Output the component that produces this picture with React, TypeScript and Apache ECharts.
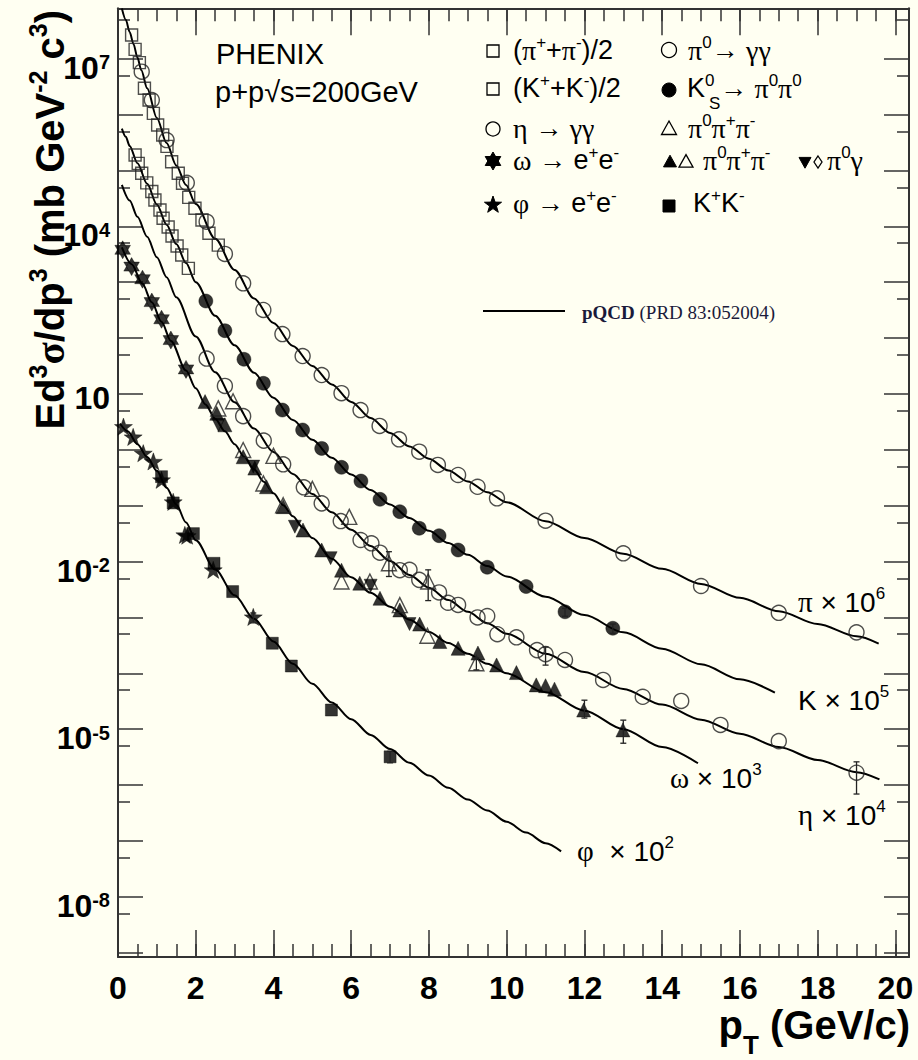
import React, { useEffect, useRef } from "react";
import * as echarts from "echarts";

// ---------------- data (pT in GeV/c, Ed3s/dp3 in mb GeV^-2 c^3, already scaled) ----------------
const xTickLabels = [0, 2, 4, 6, 8, 10, 12, 14, 16, 18, 20];
const yLabelExponents = [7, 4, 1, -2, -5, -8];

// pQCD curves
const piCurve: [number, number][] = [
  [0.1, 7.9e7], [0.2, 5.0e7], [0.3, 3.0e7], [0.4, 1.82e7], [0.5, 1.05e7], [0.6, 6.2e6], [0.75, 2.95e6],
  [1.0, 8.7e5], [1.25, 3.1e5], [1.5, 1.23e5], [1.75, 5.5e4], [2.0, 2.5e4], [2.5, 6.0e3], [3.0, 1.66e3],
  [3.5, 513], [4.0, 186], [4.5, 72], [5.0, 31.6], [5.5, 14.8], [6.0, 7.2], [6.5, 3.7], [7.0, 2.0],
  [7.5, 1.15], [8.0, 0.69], [8.5, 0.427], [9.0, 0.272], [9.5, 0.174], [10, 0.115], [11, 0.0525],
  [12, 0.0263], [13, 0.0138], [14, 7.4e-3], [15, 3.98e-3], [16, 2.24e-3], [17, 1.29e-3], [18, 7.6e-4],
  [19, 4.6e-4], [19.57, 3.4e-4],
];
const kCurve: [number, number][] = [
  [0.1, 5.6e5], [0.2, 4.0e5], [0.3, 2.75e5], [0.5, 1.35e5], [0.75, 5.75e4], [1.0, 2.45e4], [1.25, 1.07e4],
  [1.5, 4.8e3], [1.75, 2.2e3], [2.0, 1.0e3], [2.5, 251], [3.0, 74], [3.5, 24], [4.0, 8.5], [4.5, 3.4],
  [5.0, 1.51], [5.5, 0.72], [6.0, 0.36], [6.5, 0.19], [7.0, 0.105], [7.5, 0.06], [8.0, 0.0355],
  [8.5, 0.0214], [9.0, 0.0132], [9.5, 8.3e-3], [10, 5.4e-3], [11, 2.34e-3], [12, 1.1e-3], [13, 5.4e-4],
  [14, 2.75e-4], [15, 1.45e-4], [16, 7.8e-5], [16.9, 4.5e-5],
];
const etaCurve: [number, number][] = [
  [0.1, 5.5e4], [0.3, 2.9e4], [0.5, 1.48e4], [0.75, 6.5e3], [1.0, 2.8e3], [1.25, 1.23e3], [1.5, 537],
  [2.0, 107], [2.5, 24.5], [3.0, 7.1], [3.5, 2.4], [4.0, 0.91], [4.5, 0.37], [5.0, 0.162], [5.5, 0.076],
  [6.0, 0.037], [6.5, 0.019], [7.0, 0.0102], [7.5, 5.75e-3], [8.0, 3.4e-3], [8.5, 2.04e-3], [9.0, 1.26e-3],
  [9.5, 7.9e-4], [10, 5.1e-4], [11, 2.24e-4], [12, 1.05e-4], [13, 5.25e-5], [14, 2.75e-5], [15, 1.48e-5],
  [16, 8.3e-6], [17, 4.8e-6], [18, 2.8e-6], [19, 1.7e-6], [19.59, 1.26e-6],
];
const omegaCurve: [number, number][] = [
  [0.1, 4.2e3], [0.35, 2.1e3], [0.63, 933], [0.87, 437], [1.12, 195], [1.36, 89], [1.75, 26.3],
  [2.0, 12.6], [2.25, 6.5], [2.5, 3.6], [2.75, 2.14], [3.0, 1.26], [3.25, 0.74], [3.5, 0.447], [3.75, 0.269],
  [4.0, 0.166], [4.25, 0.102], [4.5, 0.0646], [4.75, 0.0407], [5.0, 0.0263], [5.5, 0.0112], [6.0, 5.25e-3],
  [6.5, 2.75e-3], [7.0, 1.55e-3], [7.5, 9.1e-4], [8.0, 5.5e-4], [8.5, 3.47e-4], [9.0, 2.24e-4],
  [9.5, 1.48e-4], [10, 1.0e-4], [11, 4.6e-5], [12, 2.14e-5], [13, 1.0e-5], [14, 4.8e-6], [14.92, 2.45e-6],
];
const phiCurve: [number, number][] = [
  [0.05, 2.95], [0.25, 2.14], [0.5, 1.26], [0.75, 0.74], [1.0, 0.42], [1.25, 0.21], [1.5, 0.105],
  [1.75, 0.05], [2.0, 0.024], [2.5, 7.2e-3], [3.0, 2.5e-3], [3.5, 9.5e-4], [4.0, 3.7e-4],
  [4.5, 1.48e-4], [5.0, 6.5e-5], [5.5, 3.0e-5], [6.0, 1.51e-5], [6.5, 7.9e-6], [7.0, 4.4e-6],
  [7.5, 2.5e-6], [8.0, 1.48e-6], [8.5, 8.9e-7], [9.0, 5.5e-7], [9.5, 3.5e-7], [10, 2.2e-7],
  [10.5, 1.41e-7], [11, 9.1e-8], [11.4, 6.5e-8],
];

// measured points
const piChargedPts: [number, number][] = [
  [0.35, 2.65e7], [0.44, 1.47e7], [0.55, 8.5e6], [0.68, 2.95e6], [0.8, 1.82e6], [0.91, 1.05e6],
  [1.02, 6.5e5], [1.15, 4.3e5], [1.26, 2.7e5], [1.38, 1.43e5], [1.55, 8.9e4], [1.66, 5.9e4],
  [1.82, 3.3e4], [1.98, 2.1e4], [2.16, 1.3e4], [2.34, 7.5e3], [2.58, 4.6e3],
];
const pi0Pts: [number, number][] = [
  [0.61, 5.85e6], [0.87, 1.82e6], [1.25, 3.5e5], [1.77, 6.0e4], [2.28, 1.21e4], [2.75, 3.2e3],
  [3.22, 955], [3.74, 318], [4.23, 118], [4.75, 47.7], [5.24, 21.8], [5.75, 10.3], [6.24, 5.15],
  [6.73, 2.67], [7.23, 1.54], [7.75, 0.925], [8.23, 0.535], [8.75, 0.354], [9.25, 0.218],
  [9.75, 0.1355], [11.0, 0.0538], [13.0, 0.01403], [15.0, 3.65e-3], [17.0, 1.21e-3], [19.0, 5.4e-4],
];
const kChargedPts: [number, number][] = [
  [0.44, 1.89e5], [0.52, 1.34e5], [0.61, 8.9e4], [0.74, 6.0e4], [0.87, 4.2e4], [0.95, 2.96e4],
  [1.08, 1.96e4], [1.16, 1.39e4], [1.29, 9.7e3], [1.39, 6.7e3], [1.52, 4.45e3], [1.64, 3.06e3],
  [1.81, 1.77e3],
];
const ks0Pts: [number, number][] = [
  [2.26, 460], [2.75, 135.5], [3.24, 41.7], [3.74, 15.5], [4.23, 5.15], [4.75, 2.26], [5.24, 1.06],
  [5.75, 0.486], [6.25, 0.276], [6.74, 0.13], [7.25, 0.078], [7.75, 0.0394], [8.26, 0.029],
  [8.75, 0.0161], [9.5, 7.9e-3], [10.5, 3.57e-3], [11.5, 1.26e-3], [12.73, 6.4e-4],
];
const etaGGPts: [number, number][] = [
  [2.28, 43], [2.75, 13.9], [3.22, 4.0], [3.75, 1.46], [4.25, 0.55], [4.78, 0.213], [5.24, 0.11],
  [5.73, 0.053], [6.24, 0.0243], [6.52, 0.0212], [6.74, 0.0144], [7.25, 7.0e-3], [7.5, 7.1e-3],
  [7.75, 4.7e-3], [8.26, 2.8e-3], [8.49, 1.83e-3], [8.75, 1.67e-3], [9.25, 1.0e-3], [9.5, 1.06e-3],
  [9.76, 5.0e-4], [10.25, 4.4e-4], [10.78, 2.6e-4], [11.0, 2.2e-4], [11.5, 1.73e-4], [12.48, 7.6e-5],
  [13.5, 3.8e-5], [14.49, 3.2e-5], [15.5, 1.19e-5], [17.0, 6.1e-6], [19.0, 1.66e-6],
];
const eta3piPts: [number, number][] = [
  [2.96, 7.4], [4.0, 0.78], [5.0, 0.2], [5.95, 0.063], [6.97, 9.3e-3], [7.98, 4.4e-3],
];
const omegaEEPts: [number, number][] = [
  [0.12, 3.8e3], [0.35, 1.9e3], [0.63, 1.13e3], [0.87, 440], [1.12, 217], [1.36, 92], [1.75, 27.5],
];
const omega3piFilledPts: [number, number][] = [
  [2.24, 7.3], [2.54, 4.5], [2.75, 2.8], [3.22, 0.75], [3.52, 0.47], [3.82, 0.218], [4.25, 0.096],
  [4.76, 0.0366], [5.24, 0.0161], [5.75, 7.0e-3], [6.22, 4.1e-3], [6.74, 2.2e-3], [7.25, 1.36e-3],
  [7.76, 7.6e-4], [8.28, 3.7e-4], [8.75, 2.8e-4], [9.26, 2.3e-4], [9.74, 1.41e-4], [10.25, 1.03e-4],
  [10.76, 6.2e-5], [11.0, 6.0e-5], [11.23, 5.2e-5], [11.98, 2.2e-5], [12.99, 9.7e-6],
];
const omega3piOpenPts: [number, number][] = [
  [2.58, 5.5], [3.22, 0.99], [3.74, 0.25], [4.25, 0.102], [5.75, 4.4e-3], [6.48, 4.4e-3],
  [7.25, 1.66e-3], [7.96, 4.7e-4], [9.22, 1.51e-4],
];
const omegaPi0GammaPts: [number, number][] = [
  [2.58, 2.8], [3.48, 0.5], [4.55, 0.042], [5.47, 0.0115], [6.5, 3.7e-3], [7.5, 7.6e-4],
];
const phiEEPts: [number, number][] = [
  [0.14, 2.6], [0.39, 1.7], [0.65, 0.87], [0.91, 0.62], [1.12, 0.29], [1.42, 0.117], [1.72, 0.03],
  [1.78, 0.029], [2.45, 7.1e-3], [3.48, 1.02e-3],
];
const phiKKPts: [number, number][] = [
  [1.12, 0.33], [1.42, 0.112], [1.94, 0.0316], [2.47, 9.3e-3], [2.95, 2.9e-3], [3.97, 3.45e-4],
  [4.46, 1.35e-4], [5.49, 2.2e-5], [7.0, 3.2e-6],
];
// error bars: [pT, low, high]
const errorBars: [number, number, number][] = [
  [19.0, 6.9e-7, 2.6e-6], [11.0, 1.4e-4, 2.95e-4], [12.0, 1.58e-5, 3.3e-5], [13.0, 5.6e-6, 1.45e-5],
  [6.97, 5.4e-3, 0.015], [7.98, 2.0e-3, 7.1e-3], [11.5, 1.05e-3, 1.45e-3], [12.73, 5.2e-4, 7.6e-4],
  [9.22, 1.15e-4, 1.9e-4], [7.0, 2.5e-6, 4.0e-6], [3.48, 8.0e-4, 1.2e-3],
];

// ---------------- styling ----------------
const FONT = "'Liberation Sans', Arial, Helvetica, sans-serif";
const SERIF = "'Liberation Serif', 'Times New Roman', serif";
const BG = "#fffff2";
const INK = "#000";
const FRAME = "#333";
const LOG_MIN = -9.078;
const LOG_MAX = 7.902;
const X_MAX = 20.35;
const HALF = Math.log10(2);

const HEXAGRAM = "path://M0,-10 L8.66,5 L-8.66,5 Z M0,10 L-8.66,-5 L8.66,-5 Z";
const STAR5 =
  "path://M0,-10 L2.35,-3.24 L9.51,-3.09 L3.8,1.24 L5.88,8.09 L0,4 L-5.88,8.09 L-3.8,1.24 L-9.51,-3.09 L-2.35,-3.24 Z";

function richSet(size: number, weight: string, color = INK, subDrop = 1.2) {
  const lh = size + 2;
  return {
    n: { fontSize: size, fontFamily: FONT, fontWeight: weight, fill: color, lineHeight: lh, verticalAlign: "middle" },
    g: { fontSize: size + 1, fontFamily: SERIF, fontWeight: weight, fill: color, lineHeight: lh, verticalAlign: "middle" },
    s: {
      fontSize: Math.round(size * 0.62), fontFamily: FONT, fontWeight: weight, fill: color, lineHeight: lh,
      verticalAlign: "middle", padding: [0, 0, Math.round(size * 0.6), 0],
    },
    t: {
      fontSize: Math.round(size * 0.64), fontFamily: FONT, fontWeight: weight, fill: color, lineHeight: lh,
      verticalAlign: "middle", padding: [Math.round(size * subDrop), 0, 0, 0],
    },
  };
}

function txt(x: number, y: number, text: string, size: number, opts: any = {}) {
  const weight = opts.weight || "normal";
  return {
    type: "text", x, y, rotation: opts.rotation || 0, silent: true, z: 20,
    style: {
      text, align: opts.align || "left", verticalAlign: "middle",
      fontSize: size, fontFamily: FONT, fontWeight: weight, fill: INK,
      rich: opts.rich || richSet(size, weight),
    },
  };
}

const stroke = { fill: "none", stroke: INK, lineWidth: 1.3 };
const solid = { fill: INK, stroke: INK, lineWidth: 1 };
function sqMk(cx: number, cy: number, s: number, filled: boolean) {
  return { type: "rect", silent: true, z: 20, shape: { x: cx - s / 2, y: cy - s / 2, width: s, height: s }, style: filled ? solid : stroke };
}
function circMk(cx: number, cy: number, r: number, filled: boolean) {
  return { type: "circle", silent: true, z: 20, shape: { cx, cy, r }, style: filled ? solid : stroke };
}
function triMk(cx: number, cy: number, s: number, filled: boolean, down = false) {
  const h = s * 0.9;
  const d = down ? -1 : 1;
  return {
    type: "polygon", silent: true, z: 20,
    shape: { points: [[cx, cy - (d * h * 2) / 3], [cx + s / 2, cy + (d * h) / 3], [cx - s / 2, cy + (d * h) / 3]] },
    style: filled ? solid : stroke,
  };
}
function diaMk(cx: number, cy: number) {
  return { type: "polygon", silent: true, z: 20, shape: { points: [[cx, cy - 6], [cx + 4, cy], [cx, cy + 6], [cx - 4, cy]] }, style: stroke };
}
function star5Mk(cx: number, cy: number, R: number) {
  const pts: number[][] = [];
  for (let i = 0; i < 10; i++) {
    const r = i % 2 ? R * 0.4 : R;
    const a = -Math.PI / 2 + (i * Math.PI) / 5;
    pts.push([cx + r * Math.cos(a), cy + r * Math.sin(a)]);
  }
  return { type: "polygon", silent: true, z: 20, shape: { points: pts }, style: solid };
}
function hexMk(cx: number, cy: number, R: number) {
  const k = R * 0.866;
  return [
    { type: "polygon", silent: true, z: 20, shape: { points: [[cx, cy - R], [cx + k, cy + R / 2], [cx - k, cy + R / 2]] }, style: solid },
    { type: "polygon", silent: true, z: 20, shape: { points: [[cx, cy + R], [cx - k, cy - R / 2], [cx + k, cy - R / 2]] }, style: solid },
  ];
}

function buildOption() {
  const lineSeries = (name: string, data: [number, number][]) => ({
    type: "line", name, data, xAxisIndex: 0, yAxisIndex: 0, smooth: 0.3, smoothMonotone: "x",
    symbol: "none", showSymbol: false, clip: true, z: 2, silent: true,
    lineStyle: { color: INK, width: 2 },
  });
  const scatter = (name: string, data: [number, number][], symbol: string, size: any, filled: boolean, extra: any = {}) => ({
    type: "scatter", name, data, xAxisIndex: 0, yAxisIndex: 0, symbol, symbolSize: size, z: 3, silent: true,
    itemStyle: filled
      ? { color: INK, borderColor: INK, borderWidth: 0.5 }
      : { color: "rgba(0,0,0,0)", borderColor: "#222", borderWidth: 1.4 },
    ...extra,
  });

  const tickStyle = { color: FRAME, width: 1.5 };
  const frameLine = { show: true, onZero: false, lineStyle: { color: FRAME, width: 2 } };
  const xBase = { type: "value", min: 0, max: X_MAX, splitLine: { show: false }, minorSplitLine: { show: false } };
  const yLab = {
    b: { fontSize: 32, fontWeight: "bold", fontFamily: FONT, color: INK, lineHeight: 32, padding: [18, 0, 0, 0] },
    s: { fontSize: 20, fontWeight: "bold", fontFamily: FONT, color: INK, lineHeight: 32, padding: [7, 0, 0, 0] },
    c: { fontSize: 32, fontWeight: "bold", fontFamily: FONT, color: INK, lineHeight: 32, padding: [8, 0, 0, 0] },
  };
  const yFormatter = (v: number) => {
    if (Math.abs(v - Math.round(v)) > 1e-6) return "";
    const n = Math.round(v);
    if (yLabelExponents.indexOf(n) < 0) return "";
    return n === 1 ? "{c|10}" : "{b|10}{s|" + n + "}";
  };
  const yMain = (pos: string, labels: boolean) => ({
    type: "value", min: LOG_MIN, max: LOG_MAX, splitNumber: 17, minInterval: 1, maxInterval: 1, position: pos,
    axisLine: frameLine, axisTick: { show: true, inside: true, length: 25, lineStyle: tickStyle },
    axisLabel: labels ? { show: true, margin: 8, formatter: yFormatter, rich: yLab } : { show: false },
    splitLine: { show: false },
  });
  const yHalf = (pos: string) => ({
    type: "value", min: LOG_MIN + HALF, max: LOG_MAX + HALF, splitNumber: 17, minInterval: 1, maxInterval: 1,
    position: pos, axisLine: { show: false, onZero: false },
    axisTick: { show: true, inside: true, length: 12, lineStyle: tickStyle }, axisLabel: { show: false },
    splitLine: { show: false },
  });

  const legendRich = richSet(27, "normal");
  const graphic: any[] = [
    txt(216, 54, "{n|PHENIX}", 29),
    txt(215, 92, "{n|p+p√s=200GeV}", 29),
    // legend column 1
    sqMk(493, 51, 12, false), txt(513, 50, "{n|(}{g|π}{s|+}{n|+}{g|π}{s|-}{n|)/2}", 27, { rich: legendRich }),
    sqMk(493, 89, 12, false), txt(513, 88, "{n|(K}{s|+}{n|+K}{s|-}{n|)/2}", 27, { rich: legendRich }),
    circMk(493, 129, 7, false), txt(513, 128, "{g|η}{n| → }{g|γγ}", 27, { rich: legendRich }),
    ...hexMk(493, 161, 9), txt(513, 160, "{g|ω}{n| → e}{s|+}{n|e}{s|-}", 27, { rich: legendRich }),
    star5Mk(493, 205, 9), txt(513, 203, "{g|φ}{n| → e}{s|+}{n|e}{s|-}", 27, { rich: legendRich }),
    // legend column 2
    circMk(669, 50, 7.5, false), txt(688, 50, "{g|π}{s|0}{n|→ }{g|γγ}", 27, { rich: legendRich }),
    circMk(669, 90, 7, true), txt(687, 88, "{n|K}{s|0}", 27, { rich: legendRich }),
    txt(709, 103, "{n|S}", 17), txt(720, 88, "{n|→ }{g|π}{s|0}{g|π}{s|0}", 27, { rich: legendRich }),
    triMk(669, 130, 15, false), txt(688, 128, "{g|π}{s|0}{g|π}{s|+}{g|π}{s|-}", 27, { rich: legendRich }),
    triMk(670, 163, 13, true), triMk(686, 163, 14, false),
    txt(703, 160, "{g|π}{s|0}{g|π}{s|+}{g|π}{s|-}", 27, { rich: legendRich }),
    triMk(805, 161, 12, true, true), diaMk(818, 162), txt(827, 160, "{g|π}{s|0}{g|γ}", 27, { rich: legendRich }),
    sqMk(669, 206, 12, true), txt(693, 203, "{n|K}{s|+}{n|K}{s|-}", 27, { rich: legendRich }),
    // pQCD legend
    { type: "line", silent: true, z: 20, shape: { x1: 483, y1: 311, x2: 565, y2: 311 }, style: { stroke: INK, lineWidth: 2 } },
    txt(582, 312, "{b|pQCD}{r| (PRD 83:052004)}", 19, {
      rich: {
        b: { fontSize: 19, fontFamily: SERIF, fontWeight: "bold", fill: "#1a1a3a", lineHeight: 22 },
        r: { fontSize: 19, fontFamily: SERIF, fontWeight: "normal", fill: "#1a1a3a", lineHeight: 22 },
      },
    }),
    // curve labels
    txt(798, 602, "{g|π}{n| × 10}{s|6}", 28),
    txt(798, 700, "{n|K × 10}{s|5}", 28),
    txt(670, 778, "{g|ω}{n| × 10}{s|3}", 28),
    txt(798, 815, "{g|η}{n| × 10}{s|4}", 28),
    txt(577, 851, "{g|φ}{n|  × 10}{s|2}", 28),
    // axis titles
    txt(50, 10, "{n|Ed}{s|3}{g|σ}{n|/dp}{s|3}{n| (mb GeV}{s|-2}{n| c}{s|3}{n|)}", 40, { weight: "bold", rotation: Math.PI / 2, align: "right" }),
    txt(910, 1025, "{n|p}{t|T}{n| (GeV/c)}", 40, { weight: "bold", align: "right", rich: richSet(40, "bold", INK, 1.0) }),
  ];

  return {
    animation: false,
    backgroundColor: BG,
    textStyle: { fontFamily: FONT },
    grid: { left: 118, right: 9, top: 8.3, bottom: 103, containLabel: false, outerBoundsMode: "none" },
    xAxis: [
      {
        ...xBase, position: "bottom", interval: 2, axisLine: frameLine,
        axisTick: { show: true, inside: true, length: 27, lineStyle: tickStyle },
        axisLabel: {
          show: true, margin: 15, fontSize: 32, fontWeight: "bold", fontFamily: FONT, color: INK,
          formatter: (v: number) => (xTickLabels.indexOf(v) >= 0 ? String(v) : ""),
        },
      },
      { ...xBase, position: "top", interval: 2, axisLine: frameLine, axisTick: { show: true, inside: true, length: 27, lineStyle: tickStyle }, axisLabel: { show: false } },
      { ...xBase, position: "bottom", interval: 0.5, axisLine: { show: false, onZero: false }, axisTick: { show: true, inside: true, length: 13, lineStyle: tickStyle }, axisLabel: { show: false } },
      { ...xBase, position: "top", interval: 0.5, axisLine: { show: false, onZero: false }, axisTick: { show: true, inside: true, length: 13, lineStyle: tickStyle }, axisLabel: { show: false } },
    ],
    yAxis: [
      { type: "log", logBase: 10, min: Math.pow(10, LOG_MIN), max: Math.pow(10, LOG_MAX), show: false, position: "left", axisLine: { onZero: false }, splitLine: { show: false } },
      yMain("left", true),
      yHalf("left"),
      yMain("right", false),
      yHalf("right"),
    ],
    series: [
      lineSeries("pi pQCD", piCurve),
      lineSeries("K pQCD", kCurve),
      lineSeries("eta pQCD", etaCurve),
      lineSeries("omega pQCD", omegaCurve),
      lineSeries("phi pQCD", phiCurve),
      scatter("(pi+ + pi-)/2", piChargedPts, "rect", 12, false),
      scatter("pi0 -> gg", pi0Pts, "circle", 15, false),
      scatter("(K+ + K-)/2", kChargedPts, "rect", 12, false),
      scatter("K0s -> pi0 pi0", ks0Pts, "circle", 14, true),
      scatter("eta -> gg", etaGGPts, "circle", 15, false),
      scatter("eta -> pi0 pi+ pi-", eta3piPts, "triangle", 15, false),
      scatter("omega -> ee", omegaEEPts, HEXAGRAM, 18, true, { symbolKeepAspect: true }),
      scatter("omega -> pi0 pi+ pi- (filled)", omega3piFilledPts, "triangle", 14, true),
      scatter("omega -> pi0 pi+ pi- (open)", omega3piOpenPts, "triangle", 15, false),
      scatter("omega -> pi0 gamma", omegaPi0GammaPts, "triangle", 13, true, { symbolRotate: 180 }),
      scatter("phi -> ee", phiEEPts, STAR5, 18, true, { symbolKeepAspect: true }),
      scatter("phi -> K+K-", phiKKPts, "rect", 12, true),
      {
        type: "custom", name: "errors", data: errorBars, xAxisIndex: 0, yAxisIndex: 0, z: 4, silent: true,
        encode: { x: 0, y: [1, 2] },
        renderItem: (_p: any, api: any) => {
          const x = api.value(0);
          const a = api.coord([x, api.value(1)]);
          const b = api.coord([x, api.value(2)]);
          const st = { stroke: "#222", lineWidth: 1.3 };
          return {
            type: "group",
            children: [
              { type: "line", shape: { x1: a[0], y1: a[1], x2: b[0], y2: b[1] }, style: st },
              { type: "line", shape: { x1: a[0] - 3, y1: a[1], x2: a[0] + 3, y2: a[1] }, style: st },
              { type: "line", shape: { x1: b[0] - 3, y1: b[1], x2: b[0] + 3, y2: b[1] }, style: st },
            ],
          };
        },
      },
    ],
    graphic,
  };
}

export default function App() {
  const ref = useRef<HTMLDivElement>(null);
  useEffect(() => {
    document.body.style.margin = "0";
    document.body.style.background = BG;
    const chart = echarts.init(ref.current as HTMLDivElement, undefined, { renderer: "svg" });
    chart.setOption(buildOption() as any);
    return () => chart.dispose();
  }, []);
  return <div ref={ref} style={{ width: 918, height: 1060, background: BG }} />;
}
